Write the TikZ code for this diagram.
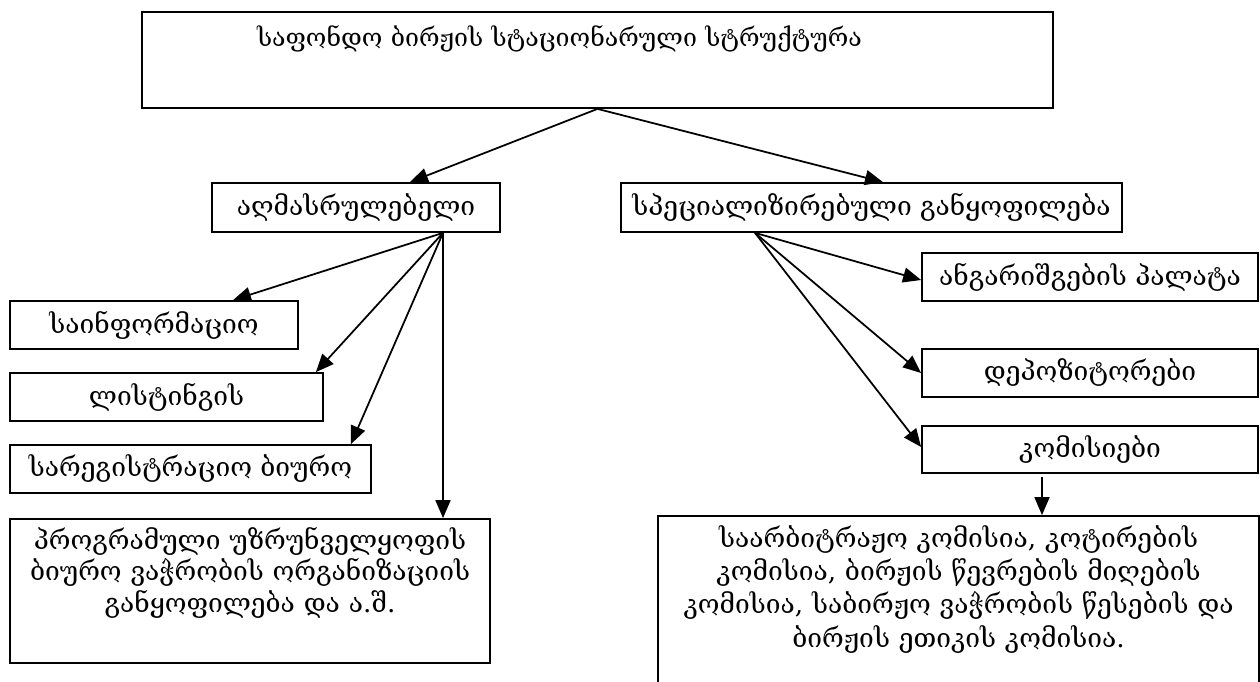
\documentclass[tikz,border=0pt]{standalone}
\usepackage{fontspec}
\setmainfont{DejaVu Serif}
\usepackage{tikz}
\usetikzlibrary{arrows.meta, calc, positioning}

\begin{document}
\begin{tikzpicture}[
    box/.style={draw, line width=1pt, inner sep=0pt, font=\fontsize{15}{18}\selectfont},
    arr/.style={line width=1pt, -{Triangle[length=0.36cm, width=0.3cm]}}
  ]
  \useasboundingbox (0,0) rectangle (25.2,-13.62);
  % top
  \node[box, minimum width=18.22cm, minimum height=1.92cm, text width=18.22cm, align=left, text height=0.68cm, text depth=1.24cm, font=\fontsize{14.2}{17}\selectfont] (top) at (11.95,-1.2) {\hspace*{2.3cm}საფონდო ბირჟის სტაციონარული სტრუქტურა};
  % second row
  \node[box, minimum width=5.76cm, minimum height=0.98cm] (exec) at (7.12,-4.15) {აღმასრულებელი};
  \node[box, minimum width=10.02cm, minimum height=0.98cm] (spec) at (17.43,-4.15) {სპეციალიზირებული განყოფილება};
  % left column
  \node[box, minimum width=5.76cm, minimum height=0.96cm] (info) at (3.08,-6.5) {საინფორმაციო};
  \node[box, minimum width=6.26cm, minimum height=0.96cm] (listing) at (3.33,-7.94) {ლისტინგის};
  \node[box, minimum width=7.22cm, minimum height=0.96cm] (reg) at (3.81,-9.38) {სარეგისტრაციო ბიურო};
  \node[box, minimum width=9.6cm, minimum height=2.88cm, text width=9.6cm, align=center, text height=0.6cm, text depth=2.28cm] (prog) at (5.0,-11.82) {პროგრამული უზრუნველყოფის\\ბიურო ვაჭრობის ორგანიზაციის\\განყოფილება და ა.შ.};
  % right column
  \node[box, minimum width=6.72cm, minimum height=0.96cm] (acct) at (21.8,-5.54) {ანგარიშგების პალატა};
  \node[box, minimum width=6.72cm, minimum height=0.96cm] (depo) at (21.8,-7.46) {დეპოზიტორები};
  \node[box, minimum width=6.72cm, minimum height=0.94cm] (comm) at (21.8,-8.99) {კომისიები};
  \node[box, minimum width=12.02cm, minimum height=3.68cm, text width=12.02cm, align=center, text height=0.62cm, text depth=3.06cm, font=\fontsize{15}{19}\selectfont] (commlist) at (19.17,-12.16) {საარბიტრაჟო კომისია, კოტირების\\კომისია, ბირჟის წევრების მიღების\\კომისია, საბირჟო ვაჭრობის წესების და\\ბირჟის ეთიკის კომისია.};

  \coordinate (execfork) at ([xshift=1.74cm]exec.south);
  \coordinate (specfork) at ([xshift=-2.33cm]spec.south);
  \coordinate (commfork) at ([xshift=-0.96cm,yshift=-0.06cm]comm.south);

  \draw[arr] (top.south) -- ([xshift=1.08cm]exec.north);
  \draw[arr] (top.south) -- ([xshift=0.23cm]spec.north);
  \draw[arr] (execfork) -- ([xshift=1.58cm]info.north);
  \draw[arr] (execfork) -- ([xshift=-0.16cm]listing.north east);
  \draw[arr] (execfork) -- ([xshift=-0.42cm]reg.north east);
  \draw[arr] (execfork) -- (execfork |- prog.north);
  \draw[arr] (specfork) -- ([yshift=-0.06cm]acct.west);
  \draw[arr] (specfork) -- (depo.west);
  \draw[arr] (specfork) -- ([yshift=0.05cm]comm.west);
  \draw[arr] (commfork) -- (commfork |- commlist.north);
\end{tikzpicture}
\end{document}
